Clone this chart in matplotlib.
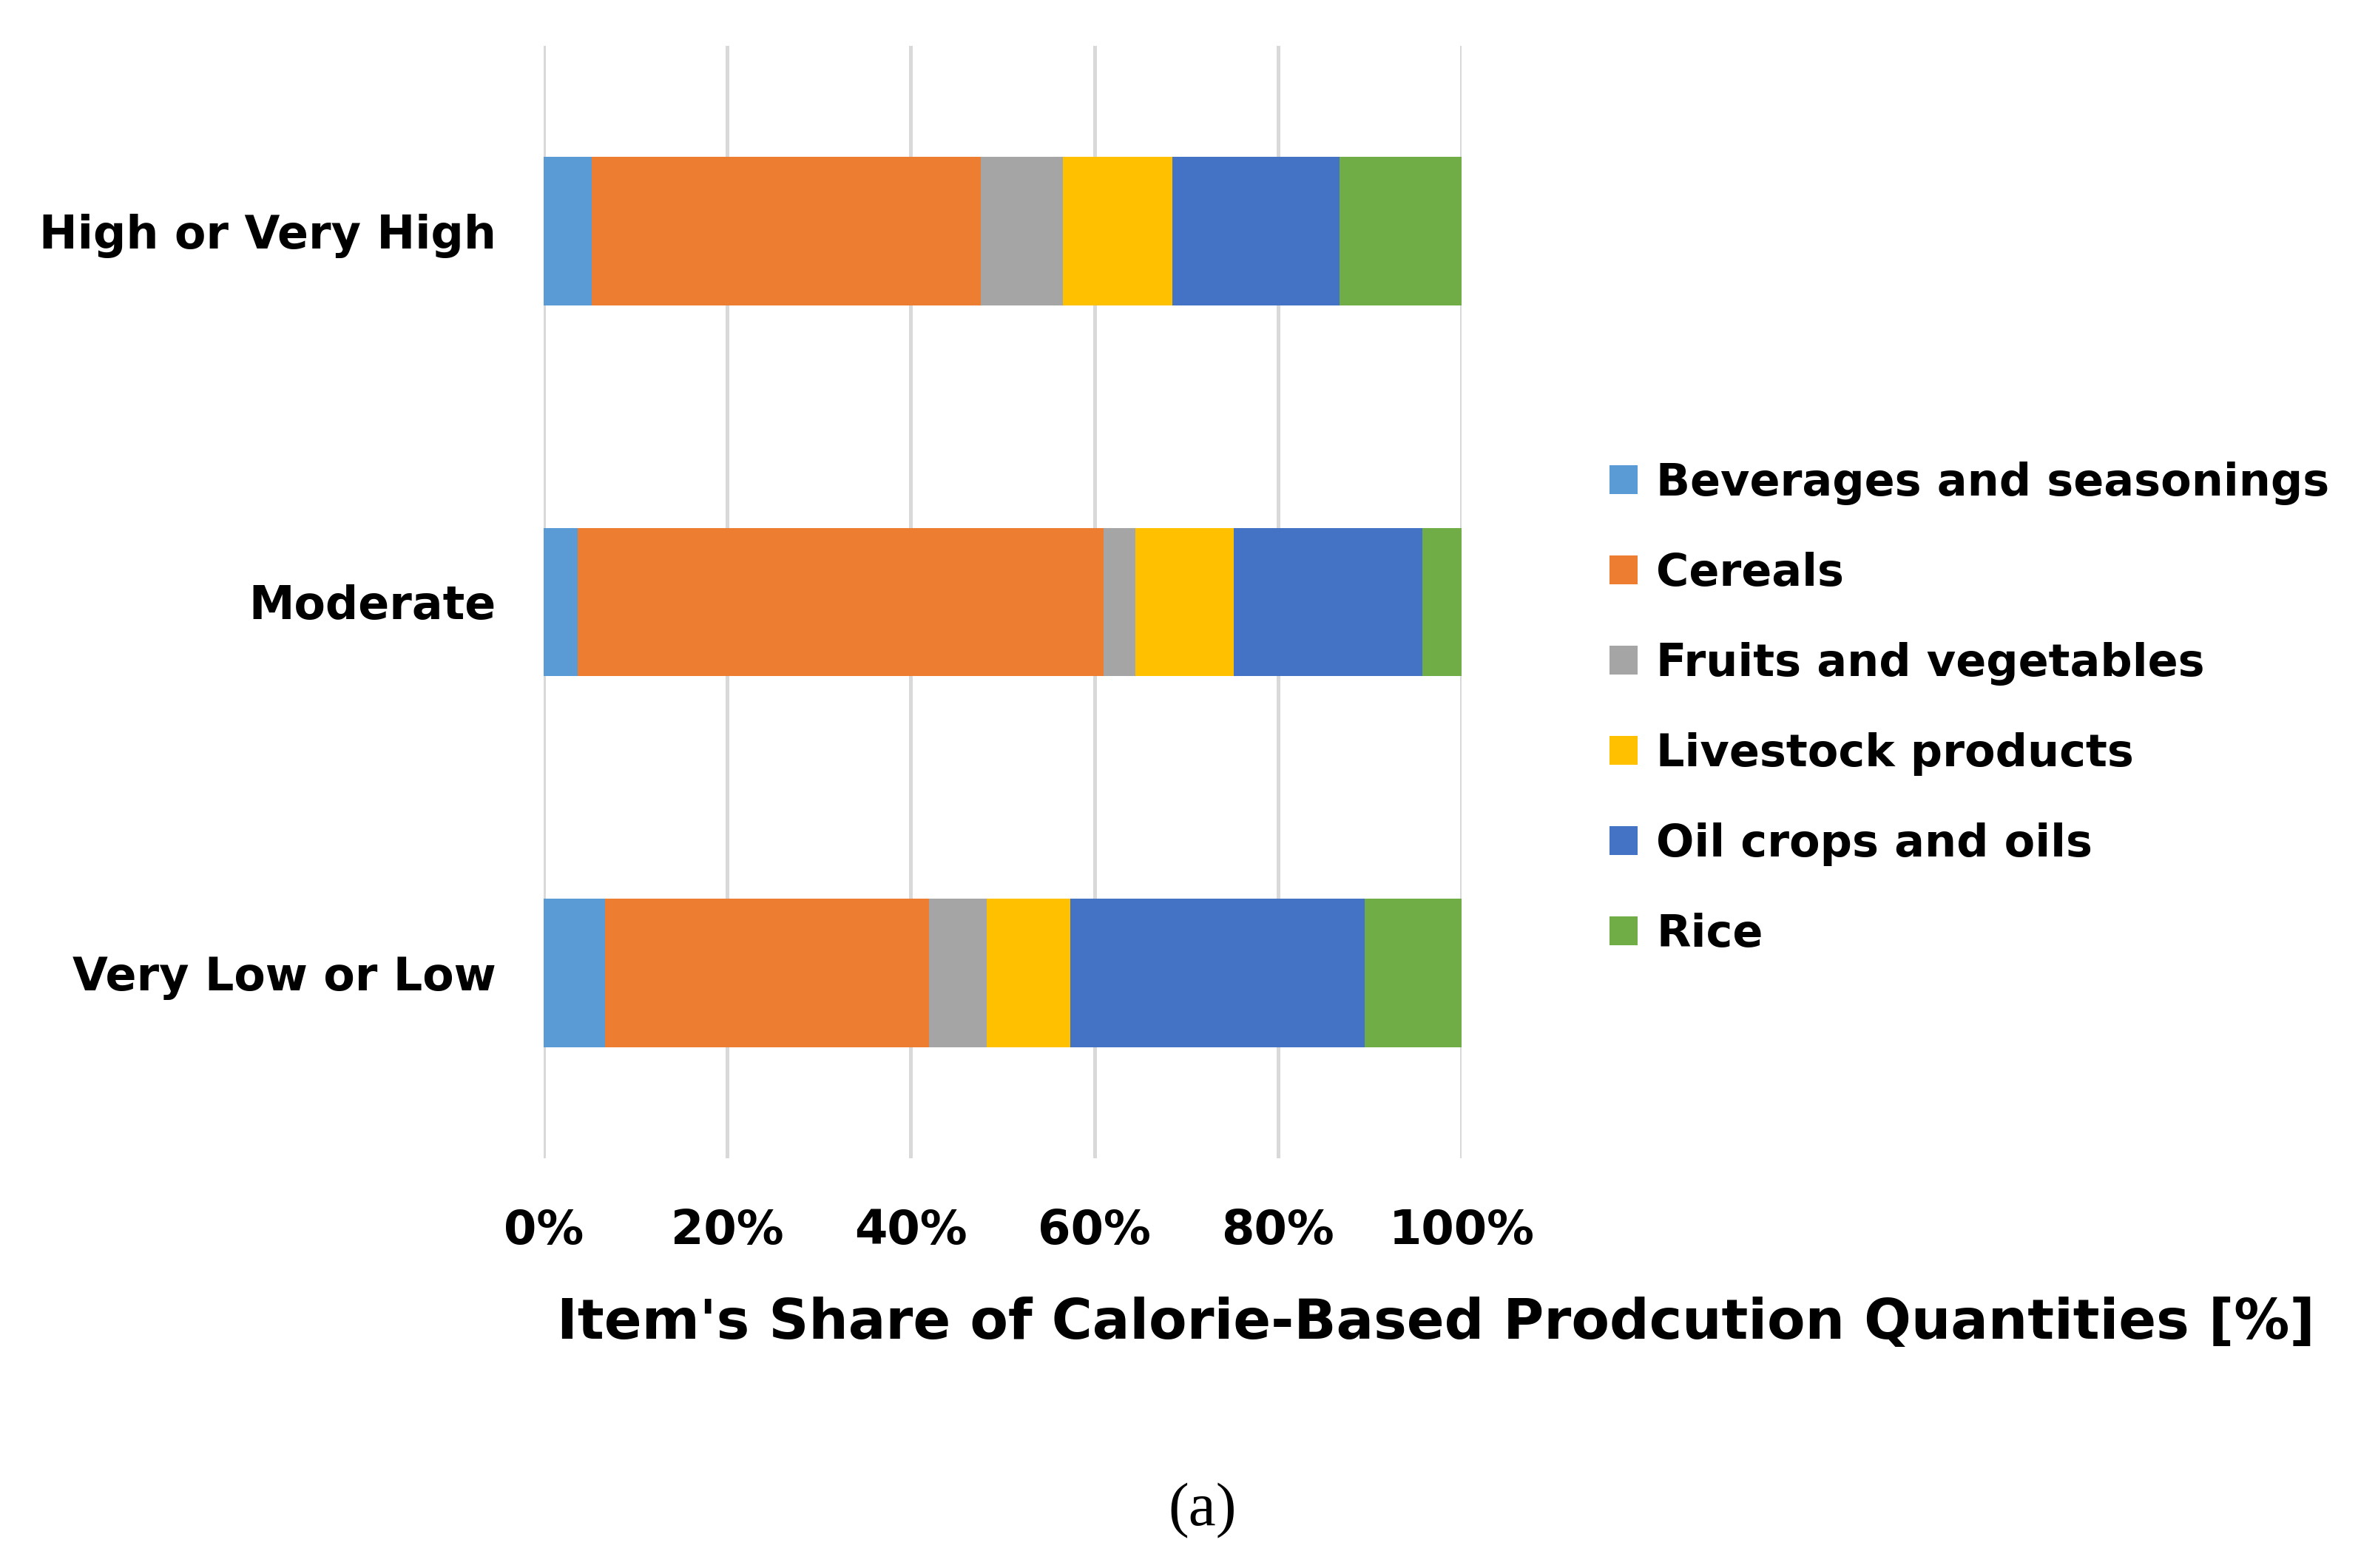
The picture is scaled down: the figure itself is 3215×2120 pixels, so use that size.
import numpy as np
import matplotlib
matplotlib.use('Agg')
import matplotlib.pyplot as plt

# Categories (bottom to top) and item shares in %
categories = ['Very Low or Low', 'Moderate', 'High or Very High']
items = ['Beverages and seasonings', 'Cereals', 'Fruits and vegetables',
         'Livestock products', 'Oil crops and oils', 'Rice']

beverages = [6.7, 3.7, 5.3]
cereals = [35.3, 57.3, 42.3]
fruits = [6.3, 3.5, 9.0]
livestock = [9.1, 10.7, 11.9]
oils = [32.0, 20.5, 18.2]
rice = [10.6, 4.3, 13.3]

colors = ['#5B9BD5', '#ED7D31', '#A5A5A5', '#FFC000', '#4472C4', '#70AD47']

plt.rcParams['font.family'] = ['DejaVu Sans']
plt.rcParams['font.weight'] = 'bold'

fig = plt.figure(figsize=(16.075, 10.6), dpi=200)
ax = fig.add_axes([0.2285, 0.2613, 0.3862, 0.7095])

series = [beverages, cereals, fruits, livestock, oils, rice]
y = np.arange(len(categories))
left = np.zeros(len(categories))
handles = []
for name, vals, col in zip(items, series, colors):
    vals = np.array(vals)
    h = ax.barh(y, vals, left=left, height=0.4, color=col, label=name, zorder=3)
    handles.append(h)
    left = left + vals

ax.set_xlim(0, 100)
ax.set_ylim(-0.5, 2.5)
ax.set_xticks(np.arange(0, 101, 20))
ax.set_xticklabels([f'{v}%' for v in range(0, 101, 20)])
ax.set_yticks(y)
ax.set_yticklabels(categories)
ax.tick_params(axis='x', length=0, pad=24, labelsize=23)
ax.tick_params(axis='y', length=0, pad=23, labelsize=22.3)
for lab in ax.get_xticklabels() + ax.get_yticklabels():
    lab.set_fontweight('bold')

ax.grid(axis='x', color='#D9D9D9', linewidth=1.8, zorder=0)
for s in ax.spines.values():
    s.set_visible(False)

leg = fig.legend(handles=handles, labels=items, loc='center left',
                 bbox_to_anchor=(0.66, 0.548), frameon=False,
                 prop={'size': 21.8, 'weight': 'bold'},
                 handlelength=0.62, handleheight=0.62, handletextpad=0.42,
                 labelspacing=1.04)

fig.text(0.604, 0.156, "Item's Share of Calorie-Based Prodcution Quantities [%]",
         ha='center', va='center', fontsize=27, fontweight='bold')
fig.text(0.5055, 0.0365, '(a)', ha='center', va='center', fontsize=30,
         family='Liberation Serif', fontweight='normal')

fig.savefig('out.png', dpi=200)
